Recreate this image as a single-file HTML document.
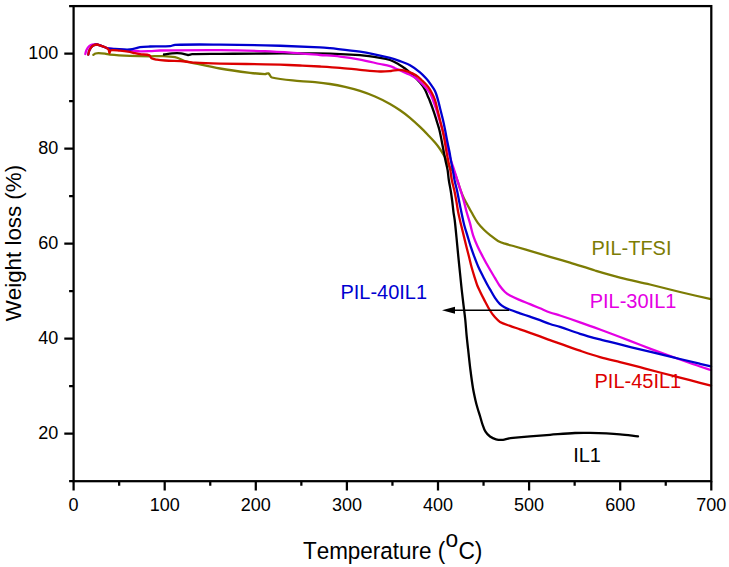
<!DOCTYPE html>
<html><head><meta charset="utf-8"><style>
html,body{margin:0;padding:0;background:#fff;}
svg{display:block;font-family:"Liberation Sans",sans-serif;font-kerning:none;}
text{font-kerning:none;}
</style></head><body>
<svg width="729" height="567" viewBox="0 0 729 567">
<path d="M93.40,54.80 C94.10,54.37 94.74,53.75 95.50,53.50 C96.44,53.19 97.50,53.09 98.50,53.10 C100.66,53.12 102.85,53.32 105.00,53.60 C106.68,53.82 108.31,54.45 110.00,54.60 C116.64,55.18 123.33,55.52 130.00,55.80 C136.66,56.08 143.33,56.23 150.00,56.30 C153.33,56.33 156.67,55.98 160.00,56.10 C165.00,56.28 170.15,56.17 175.00,57.20 C178.98,58.04 182.62,60.38 186.50,61.70 C187.62,62.08 188.84,62.06 190.00,62.30 C200.01,64.33 209.95,66.74 220.00,68.50 C229.95,70.24 239.98,71.55 250.00,72.80 C254.98,73.42 260.02,73.94 265.00,74.10 C266.15,74.14 267.50,72.96 268.40,73.40 C269.80,74.09 270.22,77.09 271.90,77.50 C280.75,79.66 290.62,80.08 300.00,81.10 C304.98,81.64 310.01,81.72 315.00,82.20 C320.01,82.68 325.03,83.22 330.00,84.00 C335.03,84.79 340.04,85.76 345.00,86.90 C350.04,88.06 355.08,89.32 360.00,90.90 C365.08,92.52 370.11,94.38 375.00,96.50 C380.11,98.71 385.13,101.21 390.00,103.90 C393.46,105.81 396.75,108.04 400.00,110.30 C403.42,112.68 406.80,115.14 410.00,117.80 C413.46,120.68 416.74,123.79 420.00,126.90 C422.74,129.52 425.37,132.26 428.00,135.00 C430.37,137.46 432.78,139.91 435.00,142.50 C436.78,144.57 438.45,146.76 440.00,149.00 C441.45,151.09 442.72,153.30 444.00,155.50 C445.05,157.30 446.10,159.12 447.00,161.00 C447.77,162.62 448.17,164.42 449.00,166.00 C449.67,167.26 450.57,168.42 451.50,169.50 C452.30,170.42 453.65,170.94 454.20,172.00 C455.65,174.77 456.45,177.98 457.50,181.00 C458.68,184.38 459.65,187.84 460.90,191.20 C461.82,193.68 462.86,196.12 464.00,198.50 C464.90,200.38 466.00,202.17 467.00,204.00 C468.50,206.77 469.94,209.57 471.50,212.30 C473.54,215.87 475.42,219.58 477.80,222.90 C479.65,225.48 481.93,227.77 484.20,230.00 C486.23,232.00 488.46,233.83 490.70,235.60 C493.06,237.46 495.40,239.43 498.00,240.90 C500.17,242.13 502.62,242.91 505.00,243.70 C508.28,244.78 511.67,245.55 515.00,246.50 C520.00,247.92 525.01,249.33 530.00,250.80 C536.68,252.76 543.33,254.82 550.00,256.80 C556.66,258.78 563.35,260.68 570.00,262.70 C578.35,265.24 586.63,268.01 595.00,270.50 C603.30,272.97 611.61,275.46 620.00,277.60 C629.94,280.13 640.02,282.11 650.00,284.50 C660.02,286.91 669.98,289.59 680.00,292.00 C690.31,294.49 700.67,296.80 711.00,299.20" fill="none" stroke="#7c7c04" stroke-width="2.3" stroke-linejoin="round" stroke-linecap="round"/>
<path d="M164.00,54.50 C166.67,54.13 169.32,53.57 172.00,53.40 C174.99,53.21 178.03,53.10 181.00,53.40 C183.37,53.64 185.66,54.83 188.00,55.00 C189.33,55.10 190.64,54.25 192.00,54.20 C201.31,53.88 210.67,53.99 220.00,53.90 C235.00,53.76 250.00,53.58 265.00,53.50 C276.67,53.44 288.33,53.48 300.00,53.50 C310.00,53.52 320.01,53.32 330.00,53.60 C340.01,53.88 350.03,54.36 360.00,55.20 C366.69,55.76 373.37,56.74 380.00,57.80 C383.37,58.34 386.80,58.89 390.00,60.00 C392.96,61.03 395.76,62.64 398.50,64.20 C400.76,65.48 402.94,66.93 405.00,68.50 C407.44,70.36 409.76,72.40 412.00,74.50 C414.76,77.10 417.53,79.73 420.00,82.60 C421.87,84.77 423.59,87.12 425.00,89.60 C426.26,91.82 426.98,94.34 428.00,96.70 C428.48,97.81 429.07,98.87 429.50,100.00 C431.07,104.07 432.59,108.17 434.00,112.30 C435.09,115.50 436.01,118.76 437.00,122.00 C437.81,124.66 438.73,127.30 439.40,130.00 C440.23,133.30 440.83,136.66 441.50,140.00 C442.30,143.99 443.02,148.00 443.80,152.00 C444.45,155.34 445.10,158.67 445.80,162.00 C446.36,164.67 447.15,167.31 447.60,170.00 C448.15,173.31 448.30,176.68 448.80,180.00 C449.37,183.75 450.19,187.46 450.80,191.20 C451.33,194.46 451.78,197.73 452.20,201.00 C452.68,204.76 453.01,208.54 453.50,212.30 C453.84,214.87 454.39,217.42 454.70,220.00 C455.39,225.82 455.92,231.66 456.50,237.50 C457.09,243.43 457.62,249.37 458.20,255.30 C458.78,261.20 459.40,267.10 460.00,273.00 C460.60,278.83 461.16,284.67 461.80,290.50 C462.33,295.34 462.93,300.17 463.50,305.00 C464.09,310.00 464.79,314.99 465.30,320.00 C465.82,325.09 466.10,330.21 466.60,335.30 C467.17,341.17 467.85,347.04 468.50,352.90 C469.15,358.77 469.75,364.64 470.50,370.50 C471.25,376.41 472.02,382.33 473.00,388.20 C473.68,392.29 474.58,396.35 475.50,400.40 C476.08,402.95 476.77,405.48 477.50,408.00 C478.27,410.68 479.19,413.33 480.00,416.00 C480.79,418.59 481.40,421.24 482.30,423.80 C483.24,426.48 484.05,429.31 485.50,431.70 C486.62,433.54 488.26,435.24 490.00,436.50 C491.76,437.77 493.90,438.77 496.00,439.30 C498.23,439.87 500.69,439.93 503.00,439.80 C504.69,439.70 506.32,438.92 508.00,438.60 C509.65,438.29 511.33,438.07 513.00,437.90 C518.66,437.31 524.33,436.78 530.00,436.30 C536.66,435.74 543.33,435.29 550.00,434.80 C558.33,434.19 566.66,433.40 575.00,433.00 C579.99,432.76 585.00,432.76 590.00,432.90 C600.00,433.19 610.02,433.57 620.00,434.30 C626.02,434.74 632.00,435.70 638.00,436.40" fill="none" stroke="#000000" stroke-width="2.3" stroke-linejoin="round" stroke-linecap="round"/>
<path d="M85.30,54.00 C85.63,52.83 85.83,51.61 86.30,50.50 C86.79,49.34 87.38,48.14 88.20,47.20 C88.95,46.34 89.98,45.61 91.00,45.10 C91.91,44.65 92.98,44.44 94.00,44.30 C94.98,44.17 96.03,44.12 97.00,44.30 C98.03,44.49 99.00,45.04 100.00,45.40 C101.67,46.00 103.35,46.56 105.00,47.20 C106.02,47.59 106.93,48.36 108.00,48.50 C115.26,49.43 122.67,49.76 130.00,50.40 C133.33,50.69 136.66,51.18 140.00,51.30 C143.33,51.42 146.67,51.23 150.00,51.10 C153.34,50.97 156.66,50.55 160.00,50.50 C179.99,50.21 200.00,49.97 220.00,50.10 C235.00,50.20 250.01,50.58 265.00,51.20 C276.68,51.68 288.34,52.59 300.00,53.40 C306.67,53.86 313.33,54.47 320.00,55.00 C326.67,55.53 333.36,55.84 340.00,56.60 C346.69,57.37 353.38,58.37 360.00,59.60 C366.71,60.84 373.33,62.53 380.00,64.00 C383.33,64.73 386.72,65.28 390.00,66.20 C391.72,66.68 393.35,67.50 395.00,68.20 C396.68,68.90 398.33,69.67 400.00,70.40 C403.33,71.87 406.78,73.12 410.00,74.80 C412.78,76.25 415.56,77.85 418.00,79.80 C420.56,81.85 422.80,84.35 425.00,86.80 C426.80,88.81 428.61,90.90 430.00,93.20 C431.27,95.30 432.11,97.69 433.00,100.00 C434.27,103.29 435.41,106.64 436.50,110.00 C437.58,113.31 438.50,116.67 439.50,120.00 C440.50,123.33 441.50,126.67 442.50,130.00 C443.50,133.33 444.58,136.64 445.50,140.00 C446.58,143.98 447.42,148.02 448.50,152.00 C449.42,155.36 450.45,158.68 451.50,162.00 C452.35,164.68 453.34,167.32 454.20,170.00 C455.34,173.52 456.38,177.07 457.50,180.60 C458.62,184.14 459.81,187.65 460.90,191.20 C461.97,194.69 463.03,198.18 464.00,201.70 C464.97,205.22 465.72,208.79 466.70,212.30 C467.69,215.85 468.91,219.35 469.90,222.90 C471.08,227.11 471.85,231.45 473.20,235.60 C474.38,239.22 475.92,242.73 477.50,246.20 C479.12,249.77 480.97,253.23 482.80,256.70 C484.67,260.26 486.60,263.80 488.60,267.30 C490.64,270.87 492.79,274.37 494.90,277.90 C496.42,280.44 497.78,283.10 499.50,285.50 C501.15,287.80 502.96,290.06 505.00,292.00 C506.46,293.39 508.22,294.54 510.00,295.50 C513.22,297.24 516.63,298.65 520.00,300.10 C523.30,301.52 526.68,302.74 530.00,304.10 C533.35,305.47 536.67,306.90 540.00,308.30 C543.33,309.70 546.60,311.28 550.00,312.50 C553.27,313.68 556.69,314.42 560.00,315.50 C566.69,317.69 573.35,319.97 580.00,322.30 C586.69,324.64 593.35,327.06 600.00,329.50 C606.68,331.96 613.35,334.46 620.00,337.00 C626.68,339.56 633.32,342.24 640.00,344.80 C646.65,347.34 653.32,349.84 660.00,352.30 C666.65,354.74 673.32,357.13 680.00,359.50 C686.66,361.86 693.31,364.23 700.00,366.50 C703.64,367.73 707.33,368.83 711.00,370.00" fill="none" stroke="#e400e4" stroke-width="2.3" stroke-linejoin="round" stroke-linecap="round"/>
<path d="M88.30,54.60 C88.60,53.33 88.72,51.99 89.20,50.80 C89.72,49.53 90.42,48.24 91.30,47.20 C92.02,46.34 93.00,45.58 94.00,45.10 C94.90,44.68 96.01,44.45 97.00,44.50 C98.01,44.55 99.01,45.07 100.00,45.40 C101.68,45.97 103.35,46.56 105.00,47.20 C106.02,47.59 106.94,48.31 108.00,48.50 C110.27,48.91 112.66,48.89 115.00,49.00 C120.00,49.23 125.06,49.88 130.00,49.50 C133.39,49.24 136.62,47.61 140.00,47.10 C143.29,46.61 146.66,46.60 150.00,46.50 C156.66,46.30 163.38,46.65 170.00,46.20 C171.72,46.08 173.28,44.86 175.00,44.80 C189.94,44.32 205.00,44.52 220.00,44.60 C235.00,44.68 250.00,44.90 265.00,45.30 C283.34,45.80 301.68,46.48 320.00,47.30 C323.34,47.45 326.67,47.83 330.00,48.20 C340.01,49.30 350.07,50.09 360.00,51.70 C370.07,53.33 380.07,55.57 390.00,57.90 C393.40,58.70 396.72,59.89 400.00,61.10 C403.39,62.35 406.86,63.54 410.00,65.30 C413.53,67.28 416.85,69.74 420.00,72.30 C422.19,74.08 424.10,76.21 426.00,78.30 C427.43,79.88 428.77,81.56 430.00,83.30 C431.77,85.79 433.69,88.26 435.00,91.00 C436.36,93.83 437.12,96.96 438.00,100.00 C438.95,103.30 439.67,106.67 440.50,110.00 C441.33,113.33 442.23,116.65 443.00,120.00 C443.76,123.32 444.43,126.66 445.10,130.00 C445.77,133.33 446.33,136.67 447.00,140.00 C447.80,144.01 448.73,147.99 449.50,152.00 C450.13,155.32 450.59,158.67 451.20,162.00 C451.69,164.67 452.31,167.33 452.80,170.00 C453.41,173.33 453.81,176.69 454.50,180.00 C455.28,183.76 456.38,187.45 457.20,191.20 C457.98,194.78 458.58,198.40 459.30,202.00 C459.98,205.44 460.67,208.87 461.40,212.30 C462.30,216.54 463.12,220.80 464.20,225.00 C465.12,228.57 466.33,232.07 467.40,235.60 C468.47,239.13 469.45,242.69 470.60,246.20 C471.75,249.73 473.00,253.23 474.30,256.70 C475.63,260.26 476.95,263.83 478.50,267.30 C480.11,270.90 482.01,274.38 483.80,277.90 C485.01,280.28 486.21,282.66 487.50,285.00 C488.61,287.03 489.83,289.00 491.00,291.00 C492.33,293.27 493.51,295.64 495.00,297.80 C496.51,300.00 498.10,302.25 500.00,304.10 C501.43,305.49 503.26,306.51 505.00,307.50 C506.59,308.41 508.29,309.14 510.00,309.80 C513.29,311.07 516.66,312.15 520.00,313.30 C523.33,314.45 526.67,315.55 530.00,316.70 C533.34,317.85 536.68,318.99 540.00,320.20 C543.35,321.42 546.62,322.87 550.00,324.00 C553.29,325.10 556.70,325.82 560.00,326.90 C566.70,329.09 573.27,331.70 580.00,333.80 C586.61,335.86 593.31,337.63 600.00,339.40 C606.64,341.16 613.33,342.73 620.00,344.40 C626.67,346.07 633.32,347.78 640.00,349.40 C646.66,351.01 653.34,352.50 660.00,354.10 C666.67,355.70 673.33,357.38 680.00,359.00 C686.66,360.62 693.33,362.21 700.00,363.80 C703.66,364.67 707.33,365.53 711.00,366.40" fill="none" stroke="#0000d0" stroke-width="2.3" stroke-linejoin="round" stroke-linecap="round"/>
<path d="M88.30,54.60 C88.60,53.33 88.72,51.99 89.20,50.80 C89.72,49.53 90.42,48.24 91.30,47.20 C92.02,46.34 93.00,45.58 94.00,45.10 C94.90,44.68 96.01,44.45 97.00,44.50 C98.01,44.55 99.01,45.07 100.00,45.40 C101.68,45.97 103.42,46.44 105.00,47.20 C106.25,47.80 107.70,48.47 108.50,49.50 C109.20,50.40 109.13,52.85 109.50,53.00 C109.79,53.12 109.69,50.48 110.50,50.30 C113.19,49.71 116.84,50.47 120.00,50.70 C122.67,50.90 125.36,51.16 128.00,51.60 C130.36,51.99 132.66,52.69 135.00,53.20 C136.66,53.56 138.32,53.96 140.00,54.20 C143.15,54.66 146.72,54.31 149.50,55.30 C150.55,55.67 150.53,57.73 151.50,58.30 C153.03,59.20 155.14,59.40 157.00,59.70 C159.64,60.13 162.33,60.33 165.00,60.50 C171.66,60.93 178.35,61.01 185.00,61.50 C188.35,61.75 191.65,62.50 195.00,62.70 C203.32,63.20 211.66,63.41 220.00,63.60 C235.00,63.94 250.00,64.03 265.00,64.30 C270.00,64.39 275.00,64.53 280.00,64.70 C286.67,64.93 293.33,65.20 300.00,65.50 C306.67,65.80 313.34,66.12 320.00,66.50 C326.67,66.88 333.34,67.25 340.00,67.80 C346.68,68.35 353.33,69.18 360.00,69.80 C366.66,70.42 373.33,71.24 380.00,71.50 C383.66,71.64 387.34,71.29 391.00,71.00 C394.01,70.76 397.02,69.79 400.00,69.90 C402.69,69.99 405.43,70.75 408.00,71.60 C410.76,72.51 413.56,73.65 416.00,75.20 C418.23,76.62 420.08,78.65 422.00,80.50 C424.08,82.51 426.22,84.53 428.00,86.80 C429.55,88.77 430.82,90.98 432.00,93.20 C433.16,95.38 434.23,97.65 435.00,100.00 C436.07,103.25 436.67,106.67 437.50,110.00 C438.33,113.33 439.17,116.67 440.00,120.00 C440.83,123.33 441.75,126.65 442.50,130.00 C443.25,133.32 443.89,136.66 444.50,140.00 C445.23,143.99 445.77,148.01 446.50,152.00 C447.11,155.34 447.80,158.67 448.50,162.00 C449.06,164.67 449.81,167.31 450.30,170.00 C450.91,173.31 451.15,176.70 451.80,180.00 C452.55,183.76 453.70,187.45 454.50,191.20 C455.26,194.78 455.87,198.39 456.50,202.00 C457.10,205.43 457.52,208.89 458.20,212.30 C459.05,216.56 460.10,220.77 461.10,225.00 C461.94,228.54 462.83,232.07 463.70,235.60 C464.57,239.13 465.41,242.67 466.30,246.20 C467.18,249.70 468.12,253.20 469.00,256.70 C469.89,260.23 470.64,263.79 471.60,267.30 C472.57,270.86 473.70,274.38 474.80,277.90 C475.60,280.44 476.33,283.02 477.30,285.50 C478.23,287.89 479.39,290.19 480.50,292.50 C481.62,294.82 482.80,297.12 484.00,299.40 C485.96,303.12 487.80,306.92 490.00,310.50 C491.47,312.89 493.15,315.19 495.00,317.30 C496.49,318.99 498.07,320.79 500.00,321.90 C503.07,323.66 506.63,324.65 510.00,325.90 C513.30,327.12 516.67,328.15 520.00,329.30 C523.34,330.45 526.67,331.62 530.00,332.80 C533.34,333.99 536.68,335.17 540.00,336.40 C543.34,337.64 546.65,338.98 550.00,340.20 C553.32,341.41 556.67,342.53 560.00,343.70 C566.67,346.03 573.30,348.46 580.00,350.70 C586.64,352.92 593.28,355.17 600.00,357.10 C606.61,359.00 613.33,360.52 620.00,362.20 C626.66,363.88 633.35,365.49 640.00,367.20 C646.68,368.92 653.33,370.76 660.00,372.50 C666.66,374.23 673.34,375.88 680.00,377.60 C686.67,379.32 693.33,381.08 700.00,382.80 C703.66,383.75 707.33,384.67 711.00,385.60" fill="none" stroke="#dc0000" stroke-width="2.3" stroke-linejoin="round" stroke-linecap="round"/>
<line x1="452" y1="310.3" x2="509" y2="310.3" stroke="#000" stroke-width="1.6"/>
<path d="M442,310.3 L455,306.8 L455,313.8 Z" fill="#000"/>
<rect x="73.60" y="6.09" width="637.70" height="475.10" fill="none" stroke="#000" stroke-width="2.25"/>
<path d="M73.60,481.19 V490.49 M164.70,481.19 V490.49 M255.80,481.19 V490.49 M346.90,481.19 V490.49 M438.00,481.19 V490.49 M529.10,481.19 V490.49 M620.20,481.19 V490.49 M711.30,481.19 V490.49 M119.15,481.19 V485.69 M210.25,481.19 V485.69 M301.35,481.19 V485.69 M392.45,481.19 V485.69 M483.55,481.19 V485.69 M574.65,481.19 V485.69 M665.75,481.19 V485.69 M73.60,433.68 H64.30 M73.60,338.66 H64.30 M73.60,243.64 H64.30 M73.60,148.62 H64.30 M73.60,53.60 H64.30 M73.60,481.19 H69.10 M73.60,386.17 H69.10 M73.60,291.15 H69.10 M73.60,196.13 H69.10 M73.60,101.11 H69.10 M73.60,6.09 H69.10" stroke="#000" stroke-width="2.25" fill="none"/>
<text x="73.60" y="511" text-anchor="middle" font-size="18">0</text>
<text x="164.70" y="511" text-anchor="middle" font-size="18">100</text>
<text x="255.80" y="511" text-anchor="middle" font-size="18">200</text>
<text x="346.90" y="511" text-anchor="middle" font-size="18">300</text>
<text x="438.00" y="511" text-anchor="middle" font-size="18">400</text>
<text x="529.10" y="511" text-anchor="middle" font-size="18">500</text>
<text x="620.20" y="511" text-anchor="middle" font-size="18">600</text>
<text x="711.30" y="511" text-anchor="middle" font-size="18">700</text>
<text x="58.4" y="438.88" text-anchor="end" font-size="18">20</text>
<text x="58.4" y="343.86" text-anchor="end" font-size="18">40</text>
<text x="58.4" y="248.84" text-anchor="end" font-size="18">60</text>
<text x="58.4" y="153.82" text-anchor="end" font-size="18">80</text>
<text x="58.4" y="58.80" text-anchor="end" font-size="18">100</text>
<text transform="translate(303,559) scale(1,1.04)" font-size="22.45">Temperature (</text>
<text transform="translate(445.6,547.3) scale(1,1.04)" font-size="22.8">o</text>
<text transform="translate(458.4,559) scale(1,1.04)" font-size="22.8">C)</text>
<text transform="translate(21.4,321.3) rotate(-90) scale(1,1.02)" font-size="22.35">Weight loss (%)</text>
<text x="591.5" y="255.4" font-size="20" fill="#7c7c04">PIL-TFSI</text>
<text x="589.7" y="308" font-size="20" fill="#e400e4">PIL-30IL1</text>
<text x="594.5" y="388.3" font-size="20" fill="#dc0000">PIL-45IL1</text>
<text x="340.4" y="299.2" font-size="20" fill="#0000d0">PIL-40IL1</text>
<text x="573.2" y="462.2" font-size="20" fill="#000">IL1</text>
</svg>
</body></html>
